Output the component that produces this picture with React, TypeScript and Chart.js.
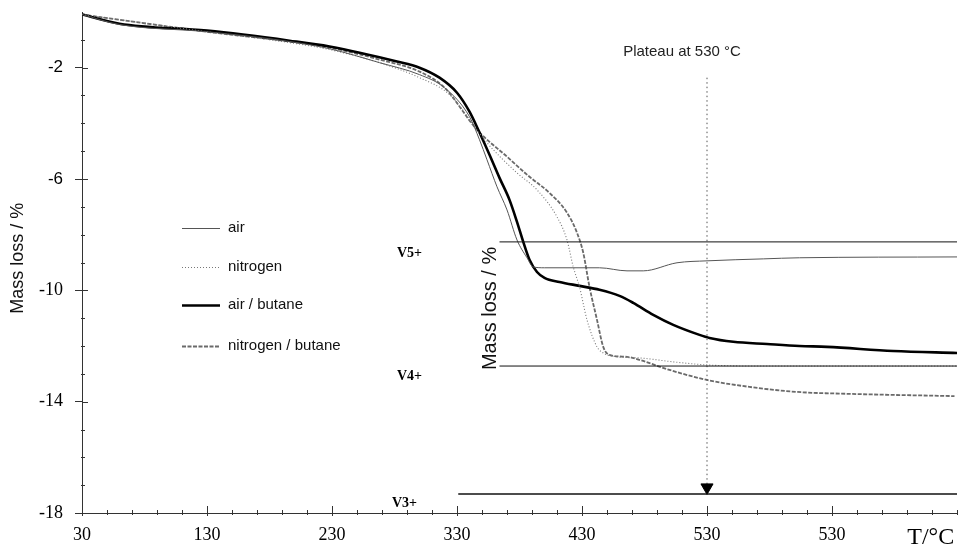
import React, { useEffect, useRef } from "react";
import { Chart, registerables } from "chart.js";
Chart.register(...registerables);

// ---- data (temperature °C, mass loss %) ----
const airT = [30, 60, 130, 196, 228, 268, 300, 320, 340, 348, 354, 362, 370, 378, 386, 391, 400, 444, 466, 479, 506, 530, 575, 604, 730];
const airM = [-0.09, -0.45, -0.71, -1.06, -1.32, -1.82, -2.25, -2.72, -3.76, -4.59, -5.31, -6.28, -7.11, -8.19, -8.83, -9.16, -9.19, -9.19, -9.3, -9.3, -9.01, -8.94, -8.87, -8.83, -8.8];

const nitrogenT = [30, 130, 196, 228, 268, 300, 324, 354, 378, 394, 410, 418, 423, 428, 434, 442, 447, 458, 476, 503, 530, 572, 730];
const nitrogenM = [-0.09, -0.71, -1.1, -1.35, -1.82, -2.36, -2.97, -4.7, -5.78, -6.39, -7.36, -8.19, -9.16, -9.88, -11.06, -12.03, -12.25, -12.39, -12.43, -12.57, -12.68, -12.72, -12.72];

const airButaneT = [30, 60, 130, 196, 228, 282, 300, 316, 330, 340, 347, 356, 364, 372, 378, 383, 388, 394, 400, 412, 428, 444, 460, 471, 487, 503, 524, 532, 551, 578, 604, 626, 679, 730];
const airButaneM = [-0.09, -0.42, -0.67, -1.03, -1.24, -1.78, -2.0, -2.36, -2.9, -3.58, -4.23, -5.13, -5.96, -6.75, -7.54, -8.26, -8.9, -9.34, -9.55, -9.7, -9.84, -9.98, -10.2, -10.45, -10.88, -11.24, -11.6, -11.71, -11.85, -11.93, -12.0, -12.03, -12.18, -12.25];

const nitrogenButaneT = [30, 130, 196, 228, 268, 300, 320, 346, 370, 388, 404, 418, 426, 431, 436, 442, 447, 452, 466, 476, 500, 530, 564, 602, 644, 728];
const nitrogenButaneM = [-0.09, -0.71, -1.06, -1.28, -1.71, -2.14, -2.72, -4.23, -5.2, -5.92, -6.5, -7.21, -7.93, -8.65, -9.88, -11.06, -12.03, -12.32, -12.39, -12.5, -12.86, -13.22, -13.47, -13.65, -13.72, -13.8];

const seriesNames = ["air", "nitrogen", "air / butane", "nitrogen / butane"];

const xTicks = [30, 130, 230, 330, 430, 530, 630];
const xTickLabels = ["30", "130", "230", "330", "430", "530", "530"];
const yTicks = [-2, -6, -10, -14, -18];
const yTickLabels = ["-2", "-6", "-10", "-14", "-18"];

const ionLabels = ["V5+", "V4+", "V3+"];
const ionLevels = [-8.26, -12.72, -17.32];
const ionStartT = [364, 364, 331];
const ionEndT = [735, 735, 733];

const plateauT = 530;
const plateauTop = -2.36;
const plateauBottom = -17.08;
const plateauText = "Plateau at 530 °C";
const yTitle = "Mass loss / %";

const SANS = "'Liberation Sans', Arial, sans-serif";
const SERIF = "'Liberation Serif', 'Times New Roman', serif";

const styles = [
  { color: "#555555", width: 1, dash: [] as number[] },
  { color: "#777777", width: 1.1, dash: [1, 2] },
  { color: "#000000", width: 2.6, dash: [] as number[] },
  { color: "#6a6a6a", width: 1.8, dash: [4, 1.5] },
];

const pts = (xs: number[], ys: number[]) => xs.map((x, i) => ({ x, y: ys[i] }));

const annotPlugin = {
  id: "annot",
  afterDraw(chart: any) {
    const ctx = chart.ctx;
    const xs = chart.scales.x;
    const ys = chart.scales.y;
    const ca = chart.chartArea;
    ctx.save();
    // ticks
    ctx.strokeStyle = "#333";
    ctx.lineWidth = 1;
    ctx.beginPath();
    for (let v = 30; v <= 730; v += 20) {
      const px = Math.round(xs.getPixelForValue(v)) + 0.5;
      const major = xTicks.includes(v);
      ctx.moveTo(px, ca.bottom + 2);
      ctx.lineTo(px, ca.bottom - (major ? 7 : 3));
    }
    for (let v = -18; v <= -1; v += 1) {
      const py = Math.round(ys.getPixelForValue(v)) + 0.5;
      const major = yTicks.includes(v);
      ctx.moveTo(ca.left - (major ? 0 : 1), py);
      ctx.lineTo(ca.left + (major ? 6 : 3), py);
    }
    ctx.stroke();

    // y title
    ctx.save();
    ctx.translate(18, ys.getPixelForValue(-8.85));
    ctx.rotate(-Math.PI / 2);
    ctx.textAlign = "center";
    ctx.textBaseline = "middle";
    ctx.font = "18px " + SANS;
    ctx.fillStyle = "#111";
    ctx.fillText(yTitle, 0, 0);
    ctx.restore();

    // ion labels
    ctx.fillStyle = "#000";
    ctx.font = "bold 14px " + SERIF;
    ctx.textAlign = "center";
    ctx.textBaseline = "middle";
    const labelX = [292, 292, 288];
    const labelOff = [11, 10, 9];
    ionLabels.forEach((l, i) => {
      ctx.fillText(l, xs.getPixelForValue(labelX[i]), ys.getPixelForValue(ionLevels[i]) + labelOff[i]);
    });

    // plateau text
    ctx.font = "15px " + SANS;
    ctx.fillStyle = "#222";
    ctx.fillText(plateauText, xs.getPixelForValue(510), ys.getPixelForValue(-1.42));

    // second rotated axis label
    ctx.save();
    ctx.translate(xs.getPixelForValue(356.4), ys.getPixelForValue(-10.65));
    ctx.rotate(-Math.PI / 2);
    ctx.font = "20px " + SANS;
    ctx.fillStyle = "#111";
    ctx.fillText(yTitle, 0, 0);
    ctx.restore();

    // T/°C
    ctx.font = "24px " + SERIF;
    ctx.fillStyle = "#000";
    ctx.fillText("T/°C", xs.getPixelForValue(709), ca.bottom + 25);

    // legend
    const rows = [216, 255, 293, 334];
    const lx0 = ca.left + 100;
    const lx1 = ca.left + 138;
    ctx.textAlign = "left";
    ctx.font = "15px " + SANS;
    seriesNames.forEach((n, i) => {
      const y = ca.top + rows[i];
      ctx.save();
      ctx.strokeStyle = styles[i].color;
      ctx.lineWidth = styles[i].width;
      ctx.setLineDash(styles[i].dash);
      ctx.beginPath();
      ctx.moveTo(lx0, y + 0.5);
      ctx.lineTo(lx1, y + 0.5);
      ctx.stroke();
      ctx.restore();
      ctx.fillStyle = "#111";
      ctx.fillText(n, lx1 + 8, y);
    });
    ctx.restore();
  },
};

export default function App() {
  const ref = useRef<HTMLCanvasElement>(null);
  useEffect(() => {
    document.body.style.margin = "0";
    const seriesData = [
      pts(airT, airM),
      pts(nitrogenT, nitrogenM),
      pts(airButaneT, airButaneM),
      pts(nitrogenButaneT, nitrogenButaneM),
    ];
    const datasets: any[] = [];
    ionLevels.forEach((lv, i) => {
      datasets.push({
        label: ionLabels[i],
        data: [
          { x: ionStartT[i], y: lv },
          { x: ionEndT[i], y: lv },
        ],
        borderColor: "#111",
        borderWidth: i === 2 ? 1.5 : 1,
        pointRadius: 0,
      });
    });
    datasets.push({
      label: "plateau",
      data: [
        { x: plateauT, y: plateauTop },
        { x: plateauT, y: plateauBottom },
      ],
      borderColor: "#555",
      borderWidth: 1,
      borderDash: [1.5, 3],
      pointRadius: [0, 7],
      pointStyle: "triangle",
      rotation: 180,
      pointBackgroundColor: "#000",
      pointBorderColor: "#000",
    });
    seriesNames.forEach((n, i) => {
      datasets.push({
        label: n,
        data: seriesData[i],
        borderColor: styles[i].color,
        borderWidth: styles[i].width,
        borderDash: styles[i].dash,
        pointRadius: 0,
        cubicInterpolationMode: "monotone",
      });
    });

    const chart = new Chart(ref.current!, {
      type: "line",
      data: { datasets },
      options: {
        animation: false,
        responsive: true,
        maintainAspectRatio: false,
        parsing: false as any,
        layout: { padding: { left: 0, right: 8, top: 12, bottom: 0 } },
        plugins: { legend: { display: false }, tooltip: { enabled: false } },
        scales: {
          x: {
            type: "linear",
            min: 30,
            max: 730,
            afterBuildTicks: (s: any) => {
              s.ticks = xTicks.map((v) => ({ value: v }));
            },
            afterFit: (s: any) => {
              s.height = 37;
            },
            ticks: {
              autoSkip: false,
              maxRotation: 0,
              padding: 8,
              color: "#000",
              font: { family: SERIF, size: 18 },
              callback: (v: any) => {
                const i = xTicks.indexOf(Number(v));
                return i >= 0 ? xTickLabels[i] : "";
              },
            },
            grid: { drawOnChartArea: false, drawTicks: true, tickLength: 3, color: "#333" },
            border: { color: "#333", width: 1 },
          },
          y: {
            type: "linear",
            min: -18,
            max: 0,
            afterBuildTicks: (s: any) => {
              s.ticks = yTicks.map((v) => ({ value: v }));
            },
            afterFit: (s: any) => {
              s.width = 82;
              s.paddingTop = 0;
              s.paddingBottom = 0;
            },
            ticks: {
              autoSkip: false,
              padding: 12,
              color: "#000",
              font: (c: any) =>
                c.index !== undefined && c.index < 2
                  ? { family: SANS, size: 17 }
                  : { family: SERIF, size: 18 },
              callback: (v: any) => {
                const i = yTicks.indexOf(Number(v));
                return i >= 0 ? yTickLabels[i] : "";
              },
            },
            grid: { drawOnChartArea: false, drawTicks: true, tickLength: 7, color: "#333" },
            border: { color: "#333", width: 1 },
          },
        },
      },
      plugins: [annotPlugin],
    });
    return () => chart.destroy();
  }, []);
  return (
    <div style={{ width: 965, height: 550, position: "relative" }}>
      <canvas ref={ref} />
    </div>
  );
}
